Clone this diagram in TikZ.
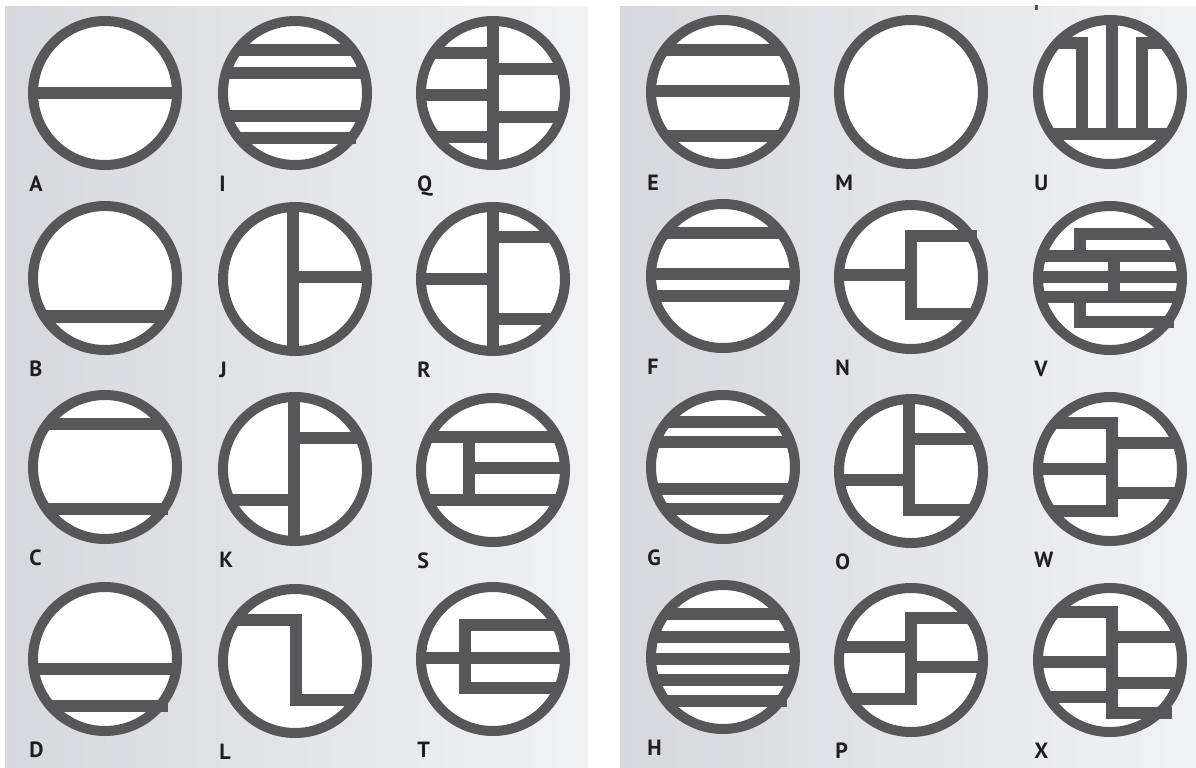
\documentclass[tikz,border=0pt]{standalone}
\usepackage{fontspec}
\setmainfont{PT Sans}
\definecolor{ink}{RGB}{87,87,89}
\definecolor{bgL}{RGB}{214,216,219}
\definecolor{bgR}{RGB}{241,242,244}
\definecolor{lbl}{RGB}{30,30,32}
\newcommand{\hb}[3]{\fill[ink] (#1,#3-6) rectangle (#2,#3+6);}
\newcommand{\vb}[3]{\fill[ink] (#1-6,#2) rectangle (#1+6,#3);}
\newcommand{\sym}[5]{%
  \begin{scope}[shift={(#1,#2)}]
    \fill[white] (0,0) circle[radius=72];
    \begin{scope}
      \clip (0,0) circle[radius=72];
      #4
    \end{scope}
    #5
    \draw[ringline] (0,0) circle[radius=72];
  \end{scope}
  \node[labelstyle] (lab#3) at (#1-76,#2+98) {#3};
}
\tikzset{
  ringline/.style={draw=ink, line width=5pt},
  labelstyle/.style={anchor=base west, inner sep=0pt, text=lbl, font=\fontsize{11}{12}\selectfont\bfseries}
}
\begin{document}
\begin{tikzpicture}[x=0.5pt,y=-0.5pt]
\useasboundingbox (0,0) rectangle (1196,767);
\fill[white] (0,0) rectangle (1196,767);
\shade[left color=bgL,right color=bgR] (5,6) rectangle (588,767);
\shade[left color=bgL,right color=bgR] (620,6) rectangle (1196,767);
% row 1
\sym{105}{93}{A}{\hb{-80}{80}{0}}{}
\sym{295}{93}{I}{\hb{-80}{80}{-43}\hb{-80}{80}{-20}\hb{-80}{80}{23}\hb{-80}{0}{44.5}}{\hb{0}{61}{44.5}}
\sym{493}{93}{Q}{\vb{0}{-80}{80}\hb{-80}{0}{-40}\hb{-80}{0}{2}\hb{-80}{0}{44}\hb{0}{80}{-24.5}\hb{0}{80}{23.5}}{}
\sym{723}{92}{E}{\hb{-80}{80}{-42}\hb{-80}{80}{-1.5}\hb{-80}{80}{44}}{}
\sym{911}{92}{M}{}{}
\sym{1110}{92}{U}{\hb{-80}{80}{42}\vb{-28}{-55.5}{42}\vb{2}{-80}{42}\vb{32}{-55.5}{42}\hb{-80}{-28}{-49.5}\hb{32}{80}{-49.5}}{}
\fill[ink] (1035,5) rectangle (1038,10);
% row 2
\sym{105}{278}{B}{\fill[ink] (-80,31.5) rectangle (80,44.5);}{}
\sym{295}{279}{J}{\vb{-2}{-80}{80}\hb{-2}{80}{-2}}{}
\sym{493}{279}{R}{\vb{0}{-80}{80}\hb{-80}{0}{0}\hb{0}{80}{-42.5}\hb{0}{80}{40}}{}
\sym{723}{276}{F}{\hb{-80}{80}{-43}\hb{-80}{80}{-2}\hb{-80}{80}{20}}{}
\sym{911}{277}{N}{\hb{-80}{0}{-2.5}\vb{0}{-47}{43}\hb{0}{80}{37}}{\hb{0}{66}{-41}}
\sym{1110}{278}{V}{\hb{-36}{80}{-44.5}\vb{-30}{-50.5}{-21.7}\hb{-80}{80}{-21.7}\hb{-80}{80}{-1}\hb{-80}{80}{19}\vb{4}{-21.7}{19}\vb{-30}{19}{50}\hb{-36}{0}{44}}{\hb{0}{64}{44}}
% row 3
\sym{105}{467}{C}{\hb{-80}{80}{-43.5}\hb{-80}{0}{42}}{\hb{0}{63}{42}}
\sym{295}{469}{K}{\vb{-1}{-80}{80}\hb{-1}{80}{-31}\hb{-80}{-1}{31}}{}
\sym{493}{470}{S}{\hb{-80}{80}{-33}\hb{-80}{80}{29.5}\vb{-24}{-33}{29.5}\hb{-24}{80}{-2}}{}
\sym{723}{467}{G}{\hb{-80}{80}{-45}\hb{-80}{80}{-25}\hb{-80}{80}{22}\hb{-80}{80}{42}}{}
\sym{911}{471}{O}{\vb{-2}{-80}{44.5}\hb{-2}{80}{-32}\hb{-80}{-2}{9}\hb{-2}{80}{38.5}}{}
\sym{1110}{469}{W}{\vb{2}{-52}{48}\hb{-80}{2}{-46}\hb{2}{80}{-26}\hb{-80}{2}{0}\hb{2}{80}{23.5}\hb{-80}{2}{42}}{}
% row 4
\sym{105}{659}{D}{\hb{-80}{80}{10}\hb{-80}{0}{47}}{\hb{0}{63}{47}}
\sym{295}{661}{L}{\hb{-80}{1}{-41}\vb{1}{-47}{44.5}\hb{1}{80}{38.5}}{}
\sym{493}{659}{T}{\hb{-80}{-28}{-1}\vb{-28}{-40}{34.5}\hb{-28}{80}{-34}\hb{-28}{80}{-1}\hb{-28}{80}{28.5}}{}
\sym{723}{657}{H}{\hb{-80}{80}{-43}\hb{-80}{80}{-20}\hb{-80}{80}{2}\hb{-80}{80}{22.5}\hb{-80}{0}{44}}{\hb{0}{64}{44}}
\sym{911}{660}{P}{\hb{0}{80}{-42}\vb{0}{-48}{44.5}\hb{-80}{0}{-12.7}\hb{0}{80}{7.4}\hb{-80}{0}{38.5}}{}
\sym{1110}{660}{X}{\vb{2}{-54}{58.5}\hb{-80}{2}{-48}\hb{2}{80}{-23}\hb{-80}{2}{2.3}\hb{2}{80}{22.5}\hb{-80}{2}{37.4}\hb{2}{0}{52.5}}{\hb{0}{62}{52.5}}
\end{tikzpicture}
\end{document}
